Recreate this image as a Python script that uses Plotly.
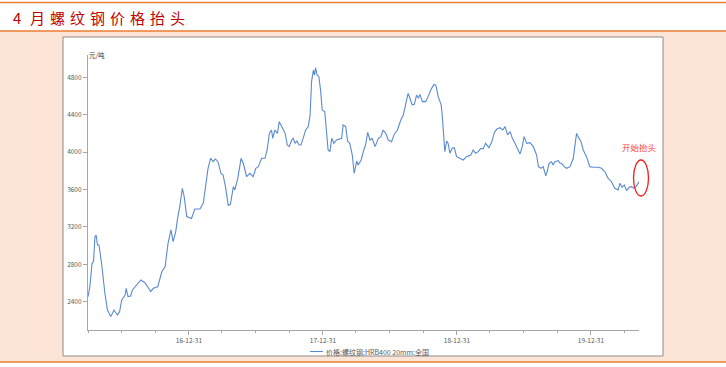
import plotly.graph_objects as go

# ---------------- data ----------------
dates = [
    "2016-03-31", "2016-04-05", "2016-04-11", "2016-04-15", "2016-04-19", "2016-04-22", "2016-04-26", "2016-04-30",
    "2016-05-07", "2016-05-11", "2016-05-16", "2016-05-23", "2016-06-01", "2016-06-10", "2016-06-19", "2016-06-25",
    "2016-07-01", "2016-07-10", "2016-07-13", "2016-07-18", "2016-07-25", "2016-07-30", "2016-08-10", "2016-08-22",
    "2016-09-02", "2016-09-09", "2016-09-18", "2016-09-25", "2016-10-07", "2016-10-18", "2016-10-27", "2016-11-04",
    "2016-11-12", "2016-11-18", "2016-11-25", "2016-11-30", "2016-12-06", "2016-12-13", "2016-12-18", "2016-12-25",
    "2017-01-07", "2017-01-16", "2017-01-30", "2017-02-08", "2017-02-14", "2017-02-21", "2017-02-28", "2017-03-07",
    "2017-03-13", "2017-03-20", "2017-03-28", "2017-04-03", "2017-04-10", "2017-04-17", "2017-04-23", "2017-05-01",
    "2017-05-05", "2017-05-13", "2017-05-22", "2017-05-28", "2017-06-06", "2017-06-15", "2017-06-24", "2017-07-01",
    "2017-07-08", "2017-07-17", "2017-07-26", "2017-08-01", "2017-08-07", "2017-08-13", "2017-08-16", "2017-08-22",
    "2017-08-29", "2017-09-03", "2017-09-10", "2017-09-19", "2017-09-25", "2017-09-30", "2017-10-07", "2017-10-11",
    "2017-10-16", "2017-10-21", "2017-10-27", "2017-11-01", "2017-11-07", "2017-11-14", "2017-11-21", "2017-11-26",
    "2017-11-30", "2017-12-05", "2017-12-08", "2017-12-11", "2017-12-15", "2017-12-20", "2017-12-25", "2017-12-29",
    "2018-01-05", "2018-01-10", "2018-01-14", "2018-01-19", "2018-01-24", "2018-01-30", "2018-02-06", "2018-02-20",
    "2018-02-24", "2018-03-03", "2018-03-08", "2018-03-14", "2018-03-21", "2018-03-26", "2018-04-02", "2018-04-06",
    "2018-04-14", "2018-04-20", "2018-04-26", "2018-05-02", "2018-05-08", "2018-05-14", "2018-05-22", "2018-05-31",
    "2018-06-07", "2018-06-13", "2018-06-20", "2018-06-27", "2018-07-06", "2018-07-13", "2018-07-22", "2018-07-31",
    "2018-08-07", "2018-08-13", "2018-08-20", "2018-08-25", "2018-08-31", "2018-09-06", "2018-09-12", "2018-09-17",
    "2018-09-21", "2018-09-28", "2018-10-07", "2018-10-16", "2018-10-23", "2018-10-30", "2018-11-04", "2018-11-10",
    "2018-11-18", "2018-11-21", "2018-11-25", "2018-11-28", "2018-12-03", "2018-12-07", "2018-12-12", "2018-12-18",
    "2018-12-24", "2018-12-30",
    "2019-01-08", "2019-01-17", "2019-01-26", "2019-02-07", "2019-02-13", "2019-02-20", "2019-02-27", "2019-03-06",
    "2019-03-12", "2019-03-19", "2019-03-28", "2019-04-05", "2019-04-12", "2019-04-19", "2019-04-27", "2019-05-05",
    "2019-05-11", "2019-05-18", "2019-05-25", "2019-05-31", "2019-06-07", "2019-06-14", "2019-06-21", "2019-06-27",
    "2019-07-02", "2019-07-09", "2019-07-18", "2019-07-27", "2019-08-05", "2019-08-10", "2019-08-17", "2019-08-23",
    "2019-08-30", "2019-09-04", "2019-09-08", "2019-09-15", "2019-09-19", "2019-09-24", "2019-10-03", "2019-10-08",
    "2019-10-12", "2019-10-19", "2019-10-26", "2019-11-04", "2019-11-13", "2019-11-17", "2019-11-22", "2019-11-26",
    "2019-12-04", "2019-12-10", "2019-12-19", "2019-12-28",
    "2020-01-06", "2020-01-20", "2020-01-29", "2020-02-07", "2020-02-16", "2020-02-25", "2020-03-05", "2020-03-14",
    "2020-03-19", "2020-03-25", "2020-03-31", "2020-04-06", "2020-04-13", "2020-04-20", "2020-04-26", "2020-05-02",
    "2020-05-08", "2020-05-13",
]
prices = [
    2453, 2560, 2810, 2828, 3095, 3113, 3006, 3006,
    2810, 2632, 2490, 2311, 2240, 2311, 2258, 2293,
    2418, 2472, 2543, 2454, 2461, 2525, 2579, 2632,
    2603, 2560, 2507, 2543, 2560, 2720, 2774, 3023,
    3167, 3042, 3148, 3290, 3416, 3613, 3524, 3310,
    3290, 3391, 3391, 3452, 3648, 3826, 3933, 3897,
    3926, 3897, 3773, 3755, 3620, 3430, 3440, 3630,
    3595, 3719, 3933, 3880, 3737, 3773, 3737, 3826,
    3844, 3933, 3933, 4022, 4200, 4236, 4147, 4236,
    4200, 4325, 4272, 4200, 4075, 4058, 4129, 4147,
    4093, 4118, 4075, 4075, 4147, 4236, 4272, 4397,
    4753, 4877, 4824, 4902, 4824, 4806, 4646, 4450,
    4432, 4218, 4022, 4005, 4147, 4093, 4129, 4147,
    4290, 4272, 4118, 4093, 3968, 3773, 3904, 3862,
    3915, 4005, 4075, 4210, 4129, 4147, 4058, 4147,
    4165, 4236, 4200, 4129, 4111, 4189, 4236, 4343,
    4397, 4504, 4628, 4575, 4504, 4511, 4610, 4575,
    4617, 4539, 4539, 4617, 4681, 4724, 4710, 4592,
    4504, 4397, 4183, 4005, 4118, 4093, 3987, 4040,
    4047, 3951,
    3933, 3915, 3951, 3969, 4022, 3987, 4004, 4040,
    4033, 4093, 4047, 4111, 4210, 4246, 4260, 4236,
    4272, 4183, 4218, 4147, 4093, 4040, 3980, 4058,
    4165, 4093, 4101, 4058, 3969, 3844, 3826, 3844,
    3745, 3808, 3880, 3897, 3862, 3897, 3909, 3880,
    3880, 3844, 3826, 3844, 3933, 4058, 4200, 4165,
    4111, 4022, 3951, 3844,
    3837, 3837, 3826, 3790, 3719, 3683, 3612, 3595,
    3666, 3623, 3648, 3588, 3623, 3630, 3612, 3630,
    3673, 3701,
]
series_name = "价格:螺纹钢:HRB400 20mm:全国"
y_ticks = [2400, 2800, 3200, 3600, 4000, 4400, 4800]
x_ticks = ["2016-12-31", "2017-12-31", "2018-12-31", "2019-12-31"]
x_tick_labels = ["16-12-31", "17-12-31", "18-12-31", "19-12-31"]
quarter_ticks = [
    "2016-03-31", "2016-06-30", "2016-09-30", "2017-03-31", "2017-06-30", "2017-09-30",
    "2018-03-31", "2018-06-30", "2018-09-30", "2019-03-31", "2019-06-30", "2019-09-30",
    "2020-03-31",
]
title_chars = ["4", "月", "螺", "纹", "钢", "价", "格", "抬", "头"]
unit_text = "元/吨"
note_text = "开始抬头"

# ---------------- style ----------------
FONT = "Noto Sans CJK SC"
LINE_BLUE = "#5A8AD0"
AXIS_GRAY = "#A6A6A6"
TEXT_GRAY = "#595959"
ORANGE = "#ED7D31"
PEACH = "#FCE4D6"

W, H = 726, 367
L, R, T, B = 88, 87, 55, 37
pw, ph = W - L - R, H - T - B


def px(x):
    return (x - L) / pw


def py(y):
    return (H - B - y) / ph


fig = go.Figure()
fig.add_trace(go.Scatter(
    x=dates, y=prices, mode="lines", name=series_name,
    line=dict(color=LINE_BLUE, width=1.1), showlegend=False,
))

shapes = [
    dict(type="rect", xref="paper", yref="paper", x0=px(-2), x1=px(W + 2), y0=py(362), y1=py(31),
         fillcolor=PEACH, line=dict(width=0), layer="below"),
    dict(type="rect", xref="paper", yref="paper", x0=px(63), x1=px(663), y0=py(356), y1=py(37),
         fillcolor="white", line=dict(color="#8C8C8C", width=1), layer="below"),
    dict(type="line", xref="paper", yref="paper", x0=px(-2), x1=px(W + 2), y0=py(2.5), y1=py(2.5),
         line=dict(color=ORANGE, width=1.5)),
    dict(type="line", xref="paper", yref="paper", x0=px(-2), x1=px(W + 2), y0=py(31), y1=py(31),
         line=dict(color=ORANGE, width=1.5)),
    dict(type="line", xref="paper", yref="paper", x0=px(-2), x1=px(W + 2), y0=py(362), y1=py(362),
         line=dict(color=ORANGE, width=1.5)),
    dict(type="line", xref="paper", yref="paper", x0=px(310), x1=px(323), y0=py(351.5), y1=py(351.5),
         line=dict(color=LINE_BLUE, width=1.1)),
    dict(type="circle", xref="paper", yref="paper", x0=px(633.5), x1=px(648.5), y0=py(196), y1=py(160),
         line=dict(color="#F02020", width=1.3)),
]

annotations = [
    dict(text=unit_text, xref="paper", yref="paper", x=px(87), y=py(55), xanchor="left", yanchor="middle",
         showarrow=False, font=dict(family=FONT, size=6.5, color="#404040")),
    dict(text=series_name, xref="paper", yref="paper", x=px(324), y=py(351.5), xanchor="left", yanchor="middle",
         showarrow=False, font=dict(family=FONT, size=7, color=TEXT_GRAY)),
    dict(text=note_text, xref="paper", yref="paper", x=px(639), y=py(147), xanchor="center", yanchor="middle",
         showarrow=False, font=dict(family=FONT, size=8.5, color="#FF4040")),
]
for i, ch in enumerate(title_chars):
    annotations.append(dict(
        text=ch, xref="paper", yref="paper", x=px(17 + 20.1 * i), y=py(17),
        xanchor="center", yanchor="middle", showarrow=False,
        font=dict(family=FONT, size=15, color="#C00000"),
    ))

fig.update_layout(
    width=W, height=H,
    margin=dict(l=L, r=R, t=T, b=B, pad=0),
    paper_bgcolor="white", plot_bgcolor="white",
    font=dict(family=FONT, size=6.5, color=TEXT_GRAY),
    shapes=shapes, annotations=annotations,
    showlegend=False,
)
fig.update_xaxes(
    type="date", range=["2016-03-31", "2020-05-10"],
    tickmode="array", tickvals=x_ticks, ticktext=x_tick_labels,
    showgrid=False, zeroline=False, showline=True, linecolor=AXIS_GRAY, linewidth=1.2,
    ticks="outside", ticklen=4, tickcolor=AXIS_GRAY, tickwidth=1,
    tickfont=dict(family=FONT, size=6.5, color=TEXT_GRAY),
    minor=dict(tickmode="array", tickvals=quarter_ticks, ticks="outside", ticklen=2, tickcolor=AXIS_GRAY),
)
fig.update_yaxes(
    range=[2097, 5038],
    tickmode="array", tickvals=y_ticks,
    showgrid=False, zeroline=False, showline=True, linecolor=AXIS_GRAY, linewidth=1.2,
    ticks="outside", ticklen=4, tickcolor=AXIS_GRAY, tickwidth=1,
    tickfont=dict(family=FONT, size=6.5, color=TEXT_GRAY),
)

fig.write_html(
    "out.html",
    config={"displayModeBar": False},
    post_script="document.body.style.margin='0';document.body.style.overflow='hidden';",
)
